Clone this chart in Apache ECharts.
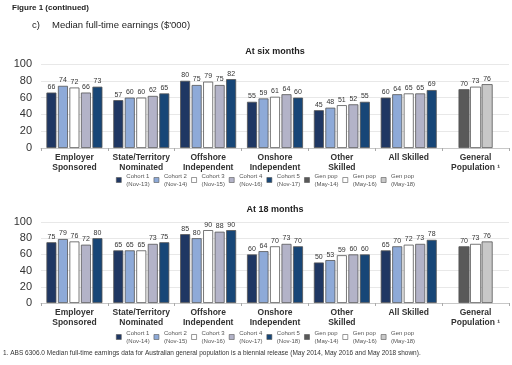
<!DOCTYPE html>
<html>
<head>
<meta charset="utf-8">
<script src="https://cdn.jsdelivr.net/npm/echarts@6/dist/echarts.min.js"></script>
<style>
  html, body { margin: 0; padding: 0; background: #fff; }
  #chart { width: 512px; height: 365px; }
</style>
</head>
<body>
<div id="chart"></div>
<script>
// Skilled visa streams plus the general population reference group
const categories = ['Employer\nSponsored', 'State/Territory\nNominated', 'Offshore\nIndependent',
  'Onshore\nIndependent', 'Other\nSkilled', 'All Skilled', 'General\nPopulation \u00b9'];
const yTicks = [0, 20, 40, 60, 80, 100];

// Median full-time earnings ($'000) at six months, by cohort
const sixMonthCohorts = ['Cohort 1 (Nov-13)', 'Cohort 2 (Nov-14)', 'Cohort 3 (Nov-15)', 'Cohort 4 (Nov-16)', 'Cohort 5 (Nov-17)'];
const six1 = [66, 57, 80, 55, 45, 60, null];
const six2 = [74, 60, 75, 59, 48, 64, null];
const six3 = [72, 60, 79, 61, 51, 65, null];
const six4 = [66, 62, 75, 64, 52, 65, null];
const six5 = [73, 65, 82, 60, 55, 69, null];

// Median full-time earnings ($'000) at 18 months, by cohort
const eighteenCohorts = ['Cohort 1 (Nov-14)', 'Cohort 2 (Nov-15)', 'Cohort 3 (Nov-16)', 'Cohort 4 (Nov-17)', 'Cohort 5 (Nov-18)'];
const eighteen1 = [75, 65, 85, 60, 50, 65, null];
const eighteen2 = [79, 65, 80, 64, 53, 70, null];
const eighteen3 = [76, 65, 90, 70, 59, 72, null];
const eighteen4 = [72, 73, 88, 73, 60, 73, null];
const eighteen5 = [80, 75, 90, 70, 60, 78, null];

// General population (ABS 6306.0), shown in both panels
const genPopNames = ['Gen pop (May-14)', 'Gen pop (May-16)', 'Gen pop (May-18)'];
const genPopValues = [70, 73, 76];

const cohortColors = ['#1f3763', '#8eaad8', '#ffffff', '#b3b3c8', '#174677'];
const genPopColors = ['#595959', '#ffffff', '#c8c8c8'];

const FONT = 'Liberation Sans, Arial, sans-serif';

function genPopRow(v) {
  return categories.map((c, i) => (i === categories.length - 1 ? v : null));
}

function cohortSeries(names, rows, axisBase) {
  return rows.map((row, i) => ({
    name: names[i],
    type: 'bar',
    xAxisIndex: axisBase,
    yAxisIndex: axisBase / 2,
    data: row,
    barWidth: 10,
    barGap: '15%',
    itemStyle: { color: cohortColors[i], borderColor: '#555', borderWidth: 0.8 },
    label: { show: true, position: 'top', distance: 2, fontSize: 7, color: '#333', fontFamily: FONT },
    emphasis: { disabled: true }
  }));
}

function genPopSeries(axisBase) {
  return genPopNames.map((n, i) => ({
    name: n,
    type: 'bar',
    xAxisIndex: axisBase + 1,
    yAxisIndex: axisBase / 2,
    data: genPopRow(genPopValues[i]),
    barWidth: 11,
    barGap: '5%',
    itemStyle: { color: genPopColors[i], borderColor: '#555', borderWidth: 0.8 },
    label: { show: true, position: 'top', distance: 2, fontSize: 7, color: '#333', fontFamily: FONT },
    emphasis: { disabled: true }
  }));
}

function xAxes(gridIndex) {
  return [
    {
      type: 'category', gridIndex, data: categories,
      axisLine: { lineStyle: { color: '#c8c8c8' } },
      axisTick: { show: true, alignWithLabel: false, length: 3, lineStyle: { color: '#aaa' } },
      axisLabel: { fontSize: 8.5, fontWeight: 'bold', color: '#333', lineHeight: 10, interval: 0, margin: 5, fontFamily: FONT }
    },
    { type: 'category', gridIndex, data: categories, show: false }
  ];
}

function yAxis(gridIndex) {
  return {
    type: 'value', gridIndex, min: yTicks[0], max: yTicks[yTicks.length - 1], interval: 20,
    axisLine: { show: false }, axisTick: { show: false },
    axisLabel: { fontSize: 11, color: '#333', margin: 9, fontFamily: FONT },
    splitLine: { lineStyle: { color: '#e8e8e8' } }
  };
}

function legend(names, top) {
  return {
    top, left: 111, itemWidth: 5, itemHeight: 5, itemGap: 4,
    icon: 'rect', selectedMode: false,
    data: names.concat(genPopNames),
    formatter: n => n.replace(' (', '\n('),
    itemStyle: { borderColor: '#555', borderWidth: 0.6 },
    textStyle: { fontSize: 6, color: '#555', lineHeight: 8, padding: [8, 0, 0, 0], fontFamily: FONT }
  };
}

const chart = echarts.init(document.getElementById('chart'));
chart.setOption({
  animation: false,
  grid: [
    { left: 41, right: 3, top: 64, height: 84 },
    { left: 41, right: 3, top: 222, height: 81 }
  ],
  xAxis: [...xAxes(0), ...xAxes(1)],
  yAxis: [yAxis(0), yAxis(1)],
  legend: [legend(sixMonthCohorts, 163), legend(eighteenCohorts, 320)],
  series: [
    ...cohortSeries(sixMonthCohorts, [six1, six2, six3, six4, six5], 0),
    ...genPopSeries(0),
    ...cohortSeries(eighteenCohorts, [eighteen1, eighteen2, eighteen3, eighteen4, eighteen5], 2),
    ...genPopSeries(2)
  ],
  graphic: [
    { type: 'text', left: 12, top: 4, style: { text: 'Figure 1 (continued)', font: 'bold 8px ' + FONT, fill: '#222' } },
    { type: 'text', left: 32, top: 20, style: { text: 'c)', font: '9.5px ' + FONT, fill: '#222' } },
    { type: 'text', left: 52, top: 20, style: { text: "Median full-time earnings ($'000)", font: '9.5px ' + FONT, fill: '#222' } },
    { type: 'text', x: 275, y: 47, style: { text: 'At six months', font: 'bold 9px ' + FONT, fill: '#222', textAlign: 'center' } },
    { type: 'text', x: 275, y: 205, style: { text: 'At 18 months', font: 'bold 9px ' + FONT, fill: '#222', textAlign: 'center' } },
    { type: 'text', left: 3, top: 350, style: { text: '1. ABS 6306.0 Median full-time earnings data for Australian general population is a biennial release (May 2014, May 2016 and May 2018 shown).', font: '6.5px ' + FONT, fill: '#333' } }
  ]
});
</script>
</body>
</html>
